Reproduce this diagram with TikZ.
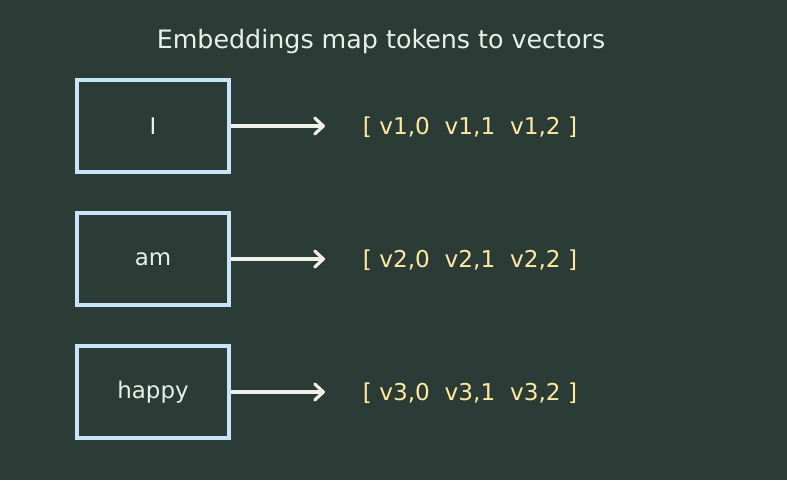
\documentclass[tikz,border=0pt]{standalone}
\usepackage{fontspec}
\setmainfont{DejaVu Sans}
\usepackage{tikz}
\usetikzlibrary{arrows.meta}
\definecolor{bg}{HTML}{2B3B35}
\definecolor{boxline}{HTML}{C8E4FA}
\definecolor{arrowc}{HTML}{F0F0E8}
\definecolor{vecc}{HTML}{FFE8A0}
\definecolor{titlec}{HTML}{E8F0EA}

\begin{document}
\begin{tikzpicture}[x=0.75pt,y=-0.75pt,
  token/.style={draw=boxline,line width=2.6pt,minimum width=114pt,minimum height=69pt,inner sep=0pt,text=titlec,font=\fontsize{17.2}{20}\selectfont},
  vec/.style={text=vecc,font=\fontsize{17.4}{20}\selectfont,yshift=-1pt},
  maparrow/.style={draw=arrowc,line width=2.4pt,-{Straight Barb[length=6.5pt,width=12pt,line width=2.4pt,round]}}]
\fill [bg] (0,0) rectangle (787,480);
\useasboundingbox (0,0) rectangle (787,480);

\node (title) [text=titlec,font=\fontsize{19}{22}\selectfont] at (381,41.5) {Embeddings map tokens to vectors};

\node (t1) [token] at (153,126) {\raisebox{-1pt}{I}};
\node (t2) [token] at (153,259) {\raisebox{-1pt}{am}};
\node (t3) [token] at (153,392) {\raisebox{-1pt}{happy}};

\coordinate (e1) at (325,126);
\coordinate (e2) at (325,259);
\coordinate (e3) at (325,392);

\draw [maparrow] (t1.east) -- (e1);
\draw [maparrow] (t2.east) -- (e2);
\draw [maparrow] (t3.east) -- (e3);

\node (v1) [vec] at (470,126) {[ v1,0\ \ v1,1\ \ v1,2 ]};
\node (v2) [vec] at (470,259) {[ v2,0\ \ v2,1\ \ v2,2 ]};
\node (v3) [vec] at (470,392) {[ v3,0\ \ v3,1\ \ v3,2 ]};

\end{tikzpicture}
\end{document}
